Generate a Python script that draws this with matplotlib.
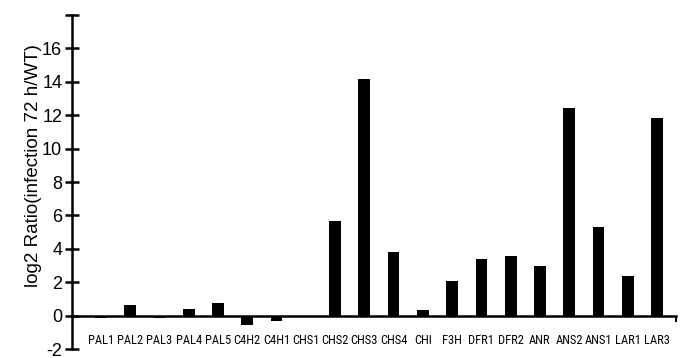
import numpy as np
import matplotlib
matplotlib.use("Agg")
import matplotlib.pyplot as plt
from matplotlib import font_manager

genes = ["PAL1", "PAL2", "PAL3", "PAL4", "PAL5", "C4H2", "C4H1", "CHS1", "CHS2", "CHS3",
         "CHS4", "CHI", "F3H", "DFR1", "DFR2", "ANR", "ANS2", "ANS1", "LAR1", "LAR3"]
log2_ratio = [-0.15, 0.63, -0.12, 0.37, 0.78, -0.56, -0.32, -0.08, 5.67, 14.19,
              3.8, 0.32, 2.05, 3.38, 3.58, 2.99, 12.45, 5.31, 2.35, 11.86]
yticks = np.arange(-2, 19, 2)

# condensed face for the gene labels, if one is installed
installed = {f.name for f in font_manager.fontManager.ttflist}
narrow = [n for n in ["Liberation Sans Narrow", "Roboto Condensed", "Open Sans Condensed",
                      "DejaVu Sans Condensed"] if n in installed]

fig = plt.figure(figsize=(6.85, 3.58), dpi=100)
ax = fig.add_axes([0.105, 0.025, 0.882, 0.933])

x = np.arange(len(genes))
ax.bar(x, log2_ratio, width=0.4, color="k")

ax.set_xlim(-0.99, len(genes) - 0.35)
ax.set_ylim(-2, 18)

# y axis on the left, x axis drawn through zero
ax.spines["top"].set_visible(False)
ax.spines["right"].set_visible(False)
ax.spines["bottom"].set_position(("data", 0))
ax.spines["left"].set_linewidth(1.8)
ax.spines["bottom"].set_linewidth(1.8)

ax.set_yticks(yticks)
ax.set_yticklabels([str(v) if v < 18 else "" for v in yticks],
                   fontsize=13, family=["Liberation Sans", "DejaVu Sans"])
ax.tick_params(axis="y", direction="inout", length=10, width=1.8, pad=2)

ax.set_xticks(x)
ax.set_xticklabels(genes, fontsize=9, fontstretch="condensed",
                   family=narrow + ["Liberation Sans", "DejaVu Sans"])
ax.tick_params(axis="x", which="major", length=0, pad=13)
ax.set_xticks([ax.get_xlim()[1]], minor=True)
ax.tick_params(axis="x", which="minor", direction="out", length=4, width=1.5)

ax.set_ylabel("log2 Ratio(infection 72 h/WT)", fontsize=13.5,
              family=["Liberation Sans", "DejaVu Sans"])
ax.yaxis.set_label_coords(-0.05, 0.55)

fig.savefig("out.png", dpi=100)
